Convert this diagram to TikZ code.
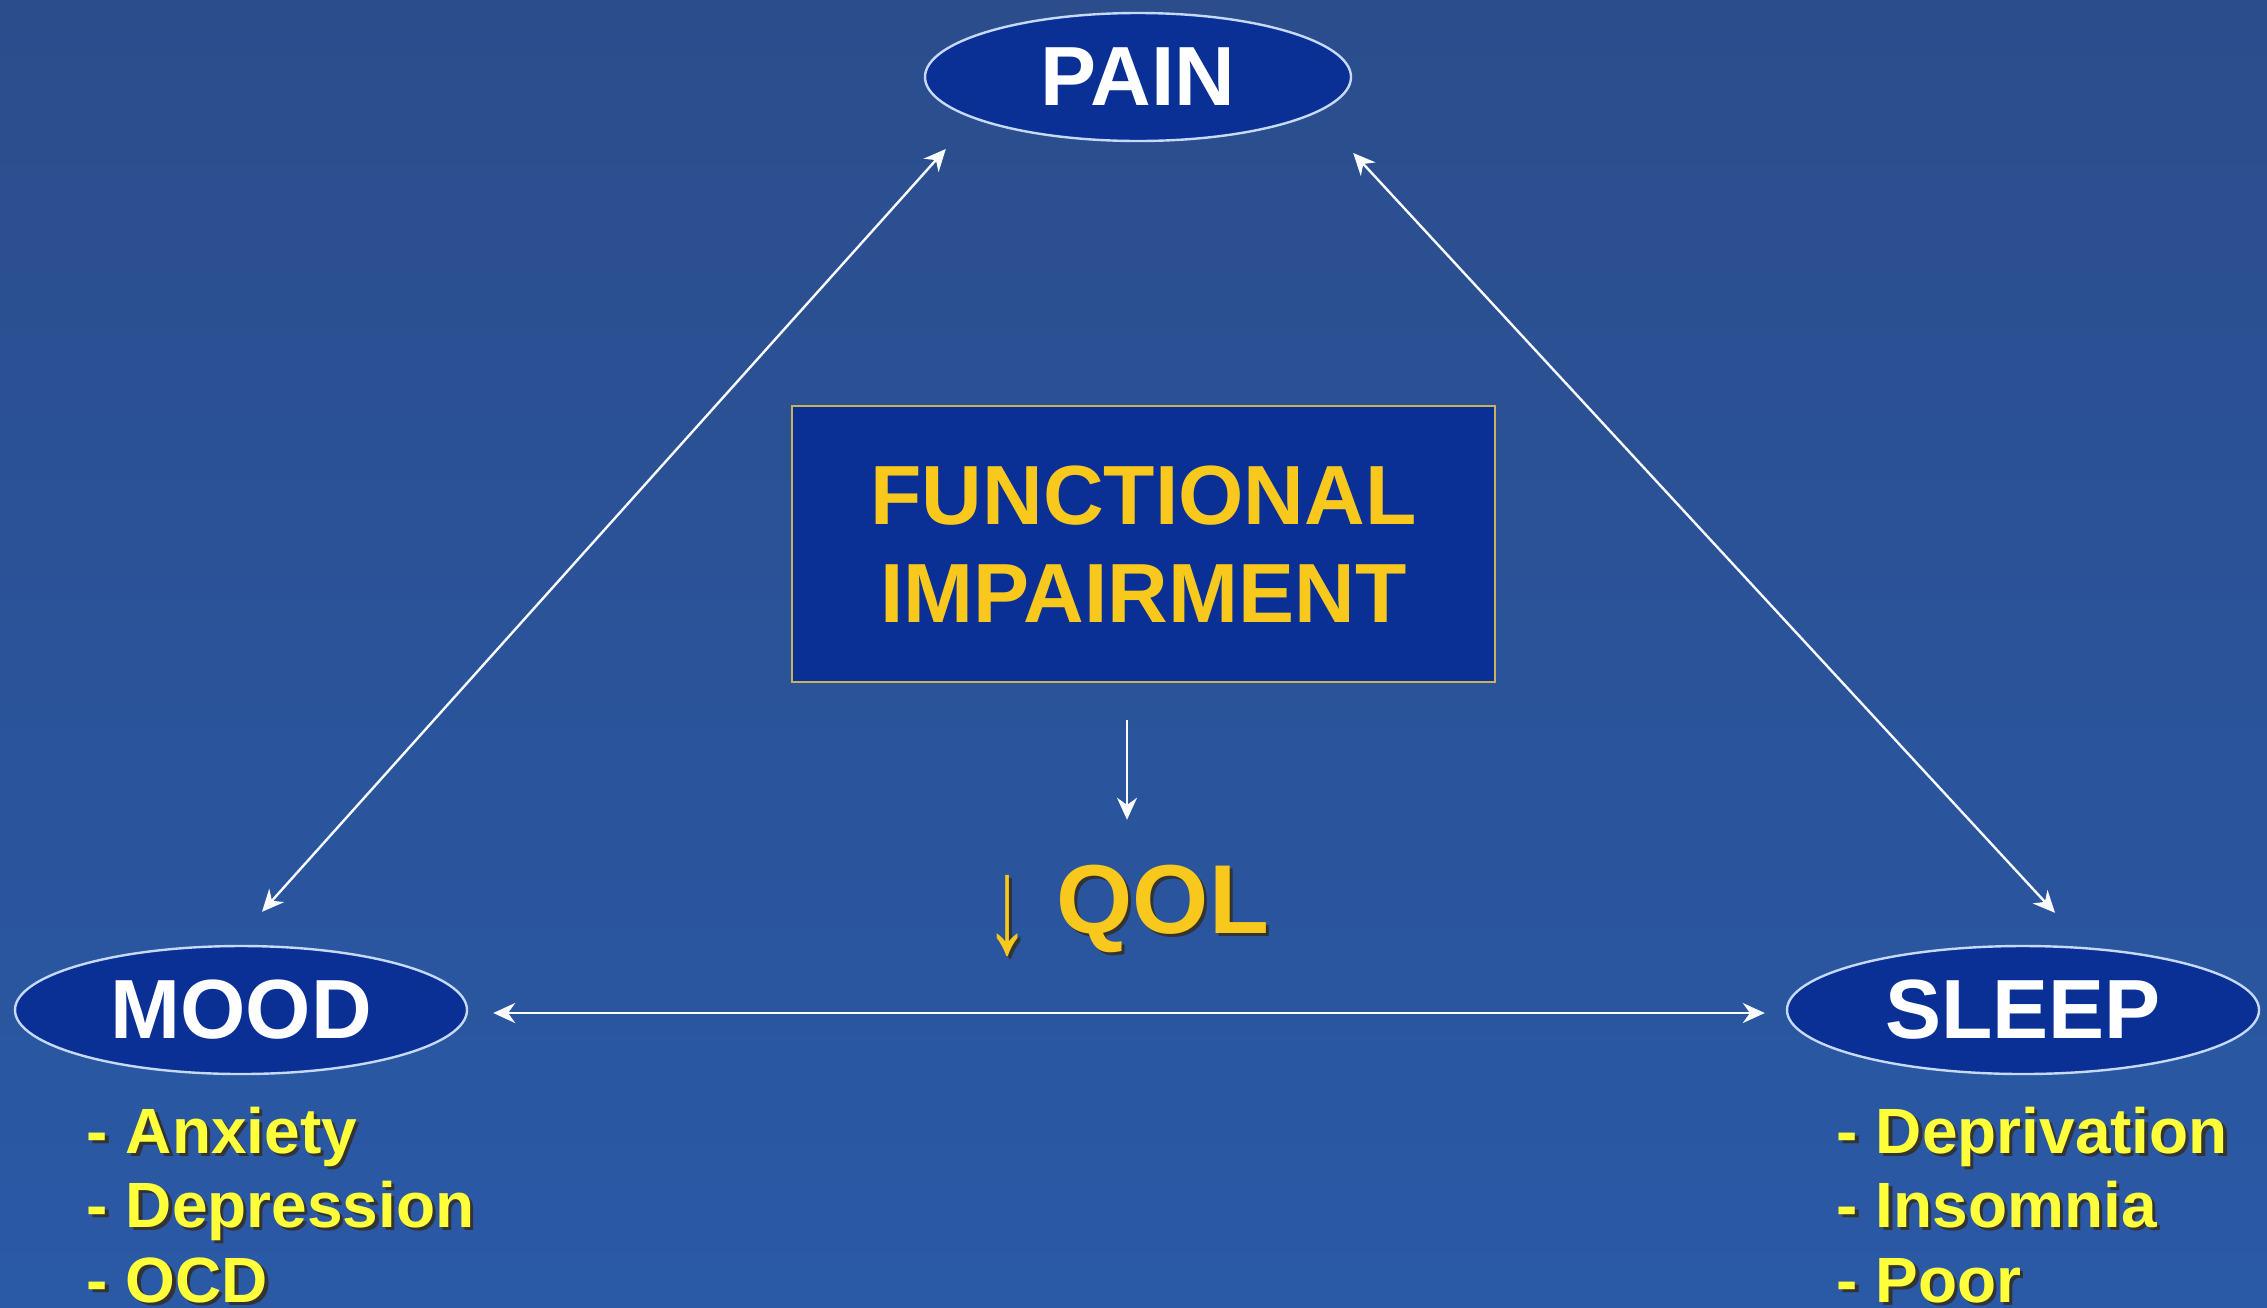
\documentclass[tikz,border=0pt]{standalone}
\usepackage{fontspec}
\setmainfont{Liberation Sans}
\usepackage{xcolor}
\definecolor{slideTop}{HTML}{2B4D8C}
\definecolor{slideLow}{HTML}{2A59A6}
\definecolor{ovalBlue}{HTML}{0A3096}
\definecolor{ovalRim}{HTML}{C6DAF8}
\definecolor{boxRim}{HTML}{C9B35A}
\definecolor{goldText}{HTML}{F8C81C}
\definecolor{listYellow}{HTML}{FFFF3A}
\usepackage{tikz}
\usetikzlibrary{arrows.meta,positioning,shapes.geometric,calc}

\newcommand{\txtshadow}[1]{\makebox[0pt][l]{\hspace{0.8pt}\raisebox{-0.8pt}{\color{black!80}#1}}#1}

\begin{document}
\begin{tikzpicture}[
  x=0.25pt, y=-0.25pt,
  oval/.style={ellipse,draw=ovalRim,line width=0.6pt,fill=ovalBlue,text=white,
               minimum height=32pt,inner sep=0pt,
               font=\fontsize{21}{25}\selectfont\bfseries},
  panel/.style={draw=boxRim,line width=0.4pt,fill=ovalBlue,text=goldText,
                align=center,minimum width=175.75pt,minimum height=69pt,
                font=\fontsize{21}{24.5}\selectfont\bfseries},
  items/.style={anchor=north west,align=left,inner sep=0pt,text=listYellow,
                font=\fontsize{16}{18.6}\selectfont\bfseries},
  link/.style={{Stealth[length=5.5pt,width=5pt]}-{Stealth[length=5.5pt,width=5pt]},
               line width=0.6pt,white!90!ovalRim},
  lead/.style={-{Stealth[length=5.5pt,width=5pt]},line width=0.6pt,white!90!ovalRim}
]
% slide background
\path[use as bounding box] (0,0) rectangle (2267,1307);
\fill[top color=slideTop,bottom color=slideLow] (0,0) rectangle (2267,1307);

% nodes
\node[oval, minimum width=106.5pt] (pain) at (1138,77) {PAIN};
\node[oval, minimum width=113pt] (mood) at (241,1010) {MOOD};
\node[oval, minimum width=118pt] (sleep) at (2023,1010) {SLEEP};
\node[panel] (func) at (1143.5,544) {FUNCTIONAL\\IMPAIRMENT};
\node[anchor=base, inner sep=0pt, text=goldText,
      font=\fontsize{24.5}{28}\selectfont\bfseries] (qol) at (1127,933)
  {\txtshadow{\raisebox{-0.2em}{\mdseries\scalebox{0.9}[1.4]{↓}} QOL}};
\node[items] (moodlist) at (86,1106)
  {\txtshadow{- Anxiety}\\ \txtshadow{- Depression}\\ \txtshadow{- OCD}};
\node[items] (sleeplist) at (1836,1106)
  {\txtshadow{- Deprivation}\\ \txtshadow{- Insomnia}\\ \txtshadow{- Poor}};

% arrows
\draw[link] ([shift={(21,-33)}]mood.north) -- ([shift={(22,72)}]pain.west);
\draw[link] ([shift={(32,-32)}]sleep.north) -- ([shift={(1,76)}]pain.east);
\draw[link] ([shift={(25,3)}]mood.east) -- ([shift={(-21,3)}]sleep.west);
\draw[lead, shorten <=9.25pt, shorten >=11pt] (func.south -| qol.north) -- (qol.north);
\end{tikzpicture}
\end{document}
